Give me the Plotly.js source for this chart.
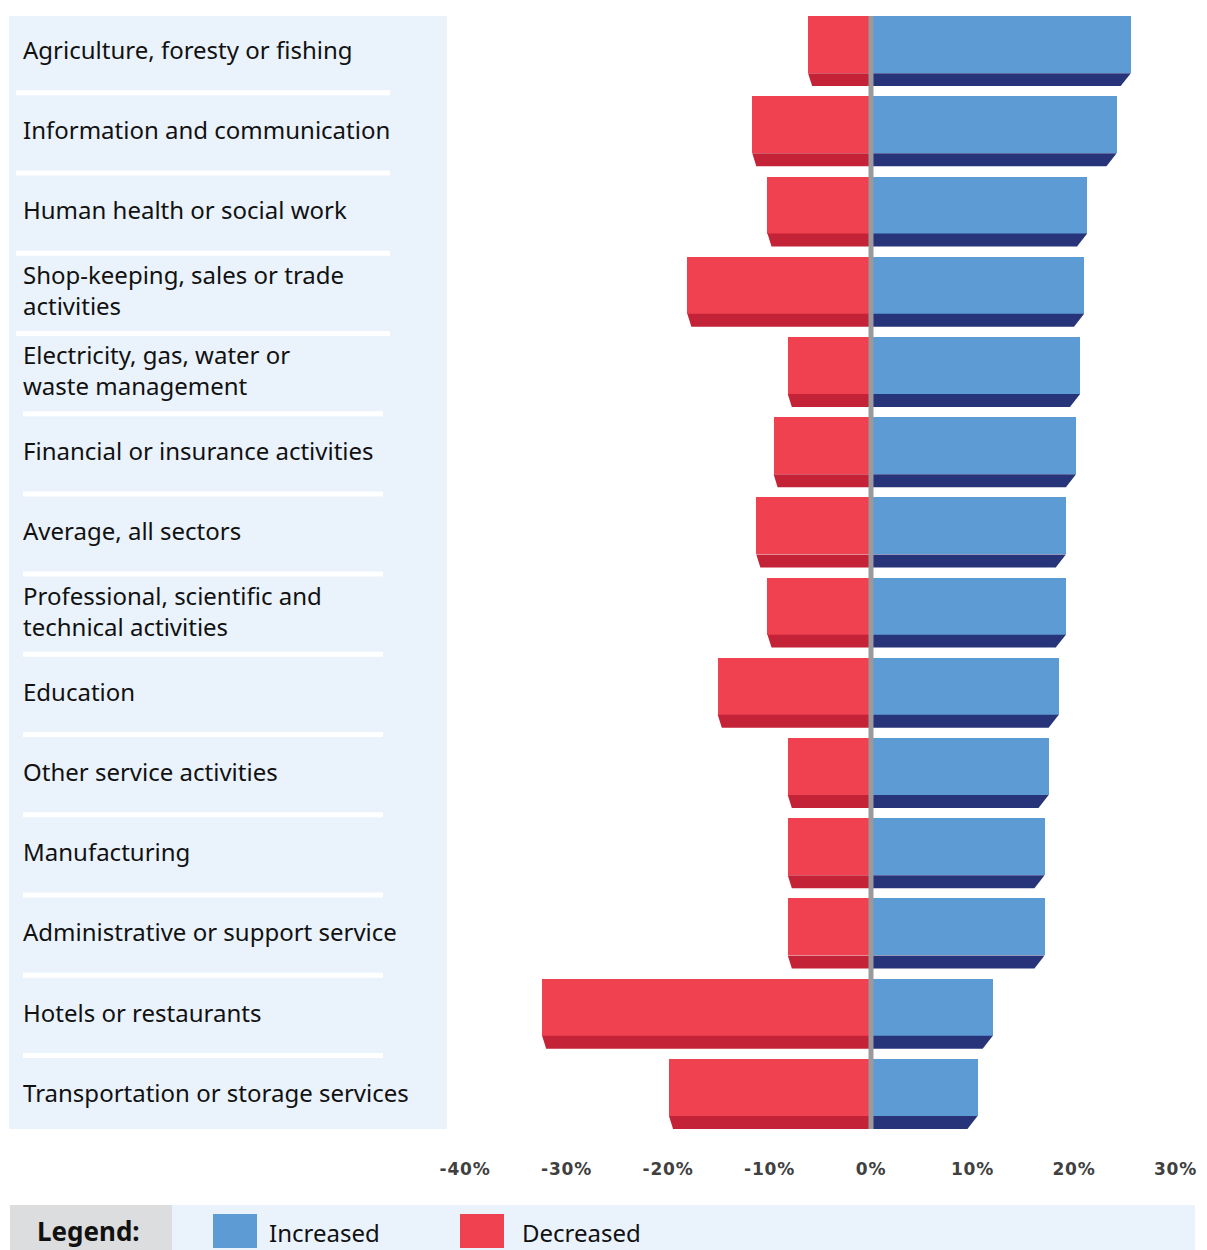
<!DOCTYPE html>
<html>
<head>
<meta charset="utf-8">
<script src="https://cdn.plot.ly/plotly-3.0.1.min.js"></script>
<style>
  html, body { margin: 0; padding: 0; background: #ffffff; }
  #chart { width: 1207px; height: 1250px; }
  #chart .xtick text { letter-spacing: 0.8px; }
</style>
</head>
<body>
<div id="chart"></div>
<script>
// ---- Data ----
const categories = [
  "Agriculture, foresty or fishing",
  "Information and communication",
  "Human health or social work",
  "Shop-keeping, sales or trade<br>activities",
  "Electricity, gas, water or<br>waste management",
  "Financial or insurance activities",
  "Average, all sectors",
  "Professional, scientific and<br>technical activities",
  "Education",
  "Other service activities",
  "Manufacturing",
  "Administrative or support service",
  "Hotels or restaurants",
  "Transportation or storage services"
];
const increased = [25.6, 24.2, 21.3, 21.0, 20.6, 20.2, 19.2, 19.2, 18.5, 17.5, 17.1, 17.1, 12.0, 10.5];
const decreased = [6.2, 11.7, 10.2, 18.1, 8.2, 9.6, 11.3, 10.2, 15.1, 8.2, 8.2, 8.2, 32.4, 19.9];
const tickValues = [-40, -30, -20, -10, 0, 10, 20, 30];
const tickLabels = ["-40%", "-30%", "-20%", "-10%", "0%", "10%", "20%", "30%"];
const legendLabels = ["Increased", "Decreased"];

// ---- Styles ----
const W = 1207, H = 1250;
const ML = 447, MR = 7, MT = 11, MB = 116;
const PW = W - ML - MR, PH = H - MT - MB;
const blueFace = "#5C9BD4", blueDark = "#28347A";
const redFace = "#EF414F", redDark = "#C42236";
const panelBg = "#EAF3FC";
const fullH = 0.873, faceH = 0.711, barTop = -fullH / 2;

const px2paperX = px => (px - ML) / PW;
const px2paperY = py => (H - MB - py) / PH;

const pos = categories.map((_, i) => i);

const traces = [
  {
    type: "bar", orientation: "h", y: pos, x: increased,
    width: faceH, offset: barTop,
    marker: { color: blueFace, line: { width: 0 } },
    hoverinfo: "skip", showlegend: false
  },
  {
    type: "bar", orientation: "h", y: pos, x: decreased.map(v => -v),
    width: faceH, offset: barTop,
    marker: { color: redFace, line: { width: 0 } },
    hoverinfo: "skip", showlegend: false
  }
];

const shapes = [];
// left label panel
shapes.push({
  type: "rect", xref: "paper", yref: "y", layer: "below",
  x0: px2paperX(9), x1: 0, y0: barTop, y1: categories.length - 1 - barTop,
  fillcolor: panelBg, line: { width: 0 }
});
// separators
for (let i = 0; i < categories.length - 1; i++) {
  const wide = i < 4;
  shapes.push({
    type: "line", xref: "paper", yref: "y", layer: "below",
    x0: px2paperX(wide ? 16 : 23), x1: px2paperX(wide ? 390 : 383),
    y0: i + 0.52, y1: i + 0.52,
    line: { color: "#ffffff", width: 5 }
  });
}
// 3D bottom strips computed from data
pos.forEach((p, i) => {
  const y0 = p + barTop + faceH, y1 = p + barTop + fullH;
  const b = increased[i], r = -decreased[i];
  shapes.push({
    type: "path", xref: "x", yref: "y", layer: "above",
    path: `M 0 ${y0} L ${b} ${y0} L ${b - 1.0} ${y1} L 0 ${y1} Z`,
    fillcolor: blueDark, line: { width: 0 }
  });
  shapes.push({
    type: "path", xref: "x", yref: "y", layer: "above",
    path: `M 0 ${y0} L ${r} ${y0} L ${r + 0.4} ${y1} L 0 ${y1} Z`,
    fillcolor: redDark, line: { width: 0 }
  });
});
// zero line
shapes.push({
  type: "line", xref: "x", yref: "y", layer: "above",
  x0: 0, x1: 0, y0: barTop, y1: categories.length - 1 - barTop,
  line: { color: "#9A9A9E", width: 5 }
});
// legend boxes
shapes.push({
  type: "rect", xref: "paper", yref: "paper",
  x0: px2paperX(10), x1: px2paperX(172), y0: px2paperY(1250), y1: px2paperY(1205),
  fillcolor: "#DCDDDE", line: { width: 0 }
});
shapes.push({
  type: "rect", xref: "paper", yref: "paper",
  x0: px2paperX(172), x1: px2paperX(1195), y0: px2paperY(1250), y1: px2paperY(1205),
  fillcolor: panelBg, line: { width: 0 }
});
shapes.push({
  type: "rect", xref: "paper", yref: "paper",
  x0: px2paperX(213), x1: px2paperX(257), y0: px2paperY(1248), y1: px2paperY(1214),
  fillcolor: blueFace, line: { width: 0 }
});
shapes.push({
  type: "rect", xref: "paper", yref: "paper",
  x0: px2paperX(460), x1: px2paperX(504), y0: px2paperY(1248), y1: px2paperY(1214),
  fillcolor: redFace, line: { width: 0 }
});

const annotations = categories.map((c, i) => ({
  xref: "paper", yref: "y", x: px2paperX(21), y: i - 0.02,
  xanchor: "left", yanchor: "middle", align: "left",
  text: c, showarrow: false,
  font: { family: "Noto Sans", size: 24, color: "#111111" }
}));
annotations.push({
  xref: "paper", yref: "paper", x: px2paperX(35), y: px2paperY(1231),
  xanchor: "left", yanchor: "middle", text: "<b>Legend:</b>", showarrow: false,
  font: { family: "Noto Sans", size: 26, color: "#111111" }
});
annotations.push({
  xref: "paper", yref: "paper", x: px2paperX(267), y: px2paperY(1232),
  xanchor: "left", yanchor: "middle", text: legendLabels[0], showarrow: false,
  font: { family: "Noto Sans", size: 24, color: "#111111" }
});
annotations.push({
  xref: "paper", yref: "paper", x: px2paperX(520), y: px2paperY(1232),
  xanchor: "left", yanchor: "middle", text: legendLabels[1], showarrow: false,
  font: { family: "Noto Sans", size: 24, color: "#111111" }
});

const pxPerUnit = 10.15, zeroPx = 871;
const layout = {
  width: W, height: H,
  margin: { l: ML, r: MR, t: MT, b: MB, pad: 0 },
  paper_bgcolor: "#ffffff", plot_bgcolor: "rgba(0,0,0,0)",
  barmode: "overlay", bargap: 0,
  showlegend: false,
  xaxis: {
    range: [-(zeroPx - ML) / pxPerUnit, (W - MR - zeroPx) / pxPerUnit],
    tickvals: tickValues, ticktext: tickLabels,
    ticks: "outside", ticklen: 20, tickcolor: "rgba(0,0,0,0)",
    showgrid: false, zeroline: false, showline: false,
    tickfont: { family: "DejaVu Sans", size: 17, color: "#404040", weight: "bold" },
    fixedrange: true
  },
  yaxis: {
    range: [categories.length - 0.5, -0.5],
    showticklabels: false, showgrid: false, zeroline: false, showline: false,
    ticks: "", fixedrange: true
  },
  shapes: shapes,
  annotations: annotations
};

Plotly.newPlot("chart", traces, layout, { displayModeBar: false, staticPlot: true });
</script>
</body>
</html>
